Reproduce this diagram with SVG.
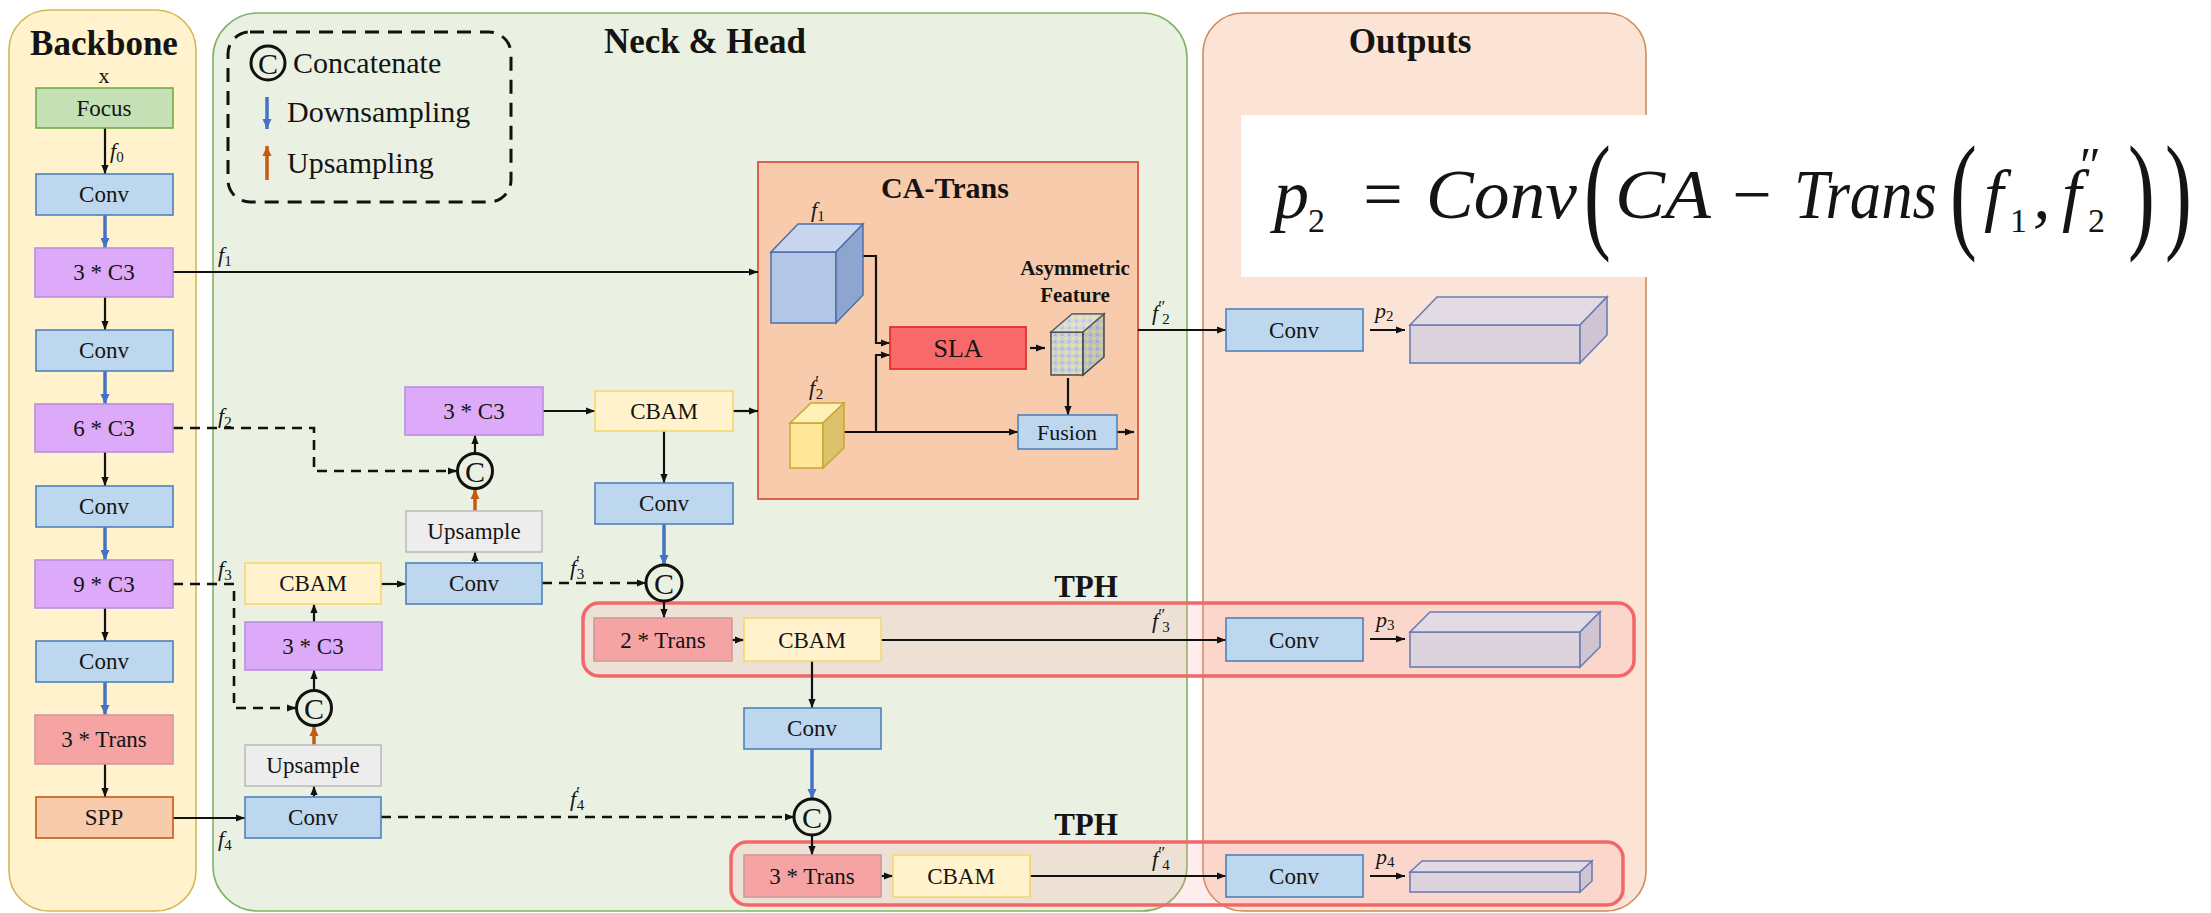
<svg xmlns="http://www.w3.org/2000/svg" width="2211" height="913" viewBox="0 0 2211 913" font-family="'Liberation Serif', 'Times New Roman', serif">
  <defs>
    <style>
      text { font-family: "Liberation Serif", "Times New Roman", serif; fill: #141414; }
      .lbl { font-size: 23px; text-anchor: middle; }
      .title { font-size: 35px; font-weight: bold; text-anchor: middle; }
      .sub-title { font-size: 31px; font-weight: bold; text-anchor: middle; }
      .leg { font-size: 30px; }
      .fl { font-size: 22px; font-style: italic; }
      .sb { font-size: 15px; font-style: normal; }
      .pr { font-size: 17px; font-style: normal; }
      .fx { font-size: 70px; font-style: italic; }
      .fxr { font-size: 70px; font-style: normal; }
      .fxs { font-size: 34px; font-style: normal; }
      .paren { font-size: 130px; font-style: normal; }
      .cc { font-size: 30px; text-anchor: middle; }
      .panel { stroke-width: 1.6; }
      .conv { fill: #bdd7ee; stroke: #4f81bd; stroke-width: 1.6; }
      .c3 { fill: #dcaaf8; stroke: #b98ee0; stroke-width: 1.6; }
      .trans { fill: #f5a3a3; stroke: #cf9a9a; stroke-width: 1.6; }
      .cbam { fill: #fff2cc; stroke: #f5d76e; stroke-width: 1.6; }
      .ups { fill: #ededed; stroke: #bcbcbc; stroke-width: 1.6; }
      .cat { fill: none; stroke: #111; stroke-width: 3; }
      .tph { fill: #ff9c9c; fill-opacity: 0.18; stroke: #f26868; stroke-width: 3.5; }
      .ln { fill: none; stroke: #111; stroke-width: 2.2; }
      .dash { fill: none; stroke: #111; stroke-width: 2.6; stroke-dasharray: 10 7; }
      .down { fill: none; stroke: #4472c4; stroke-width: 3.5; }
      .up { fill: none; stroke: #c55a11; stroke-width: 3.5; }
      .out { fill: #dcd3dd; stroke: #6c7db4; stroke-width: 1.6; }
    </style>
    <marker id="ah" viewBox="0 0 10 10" refX="10" refY="5" markerWidth="10" markerHeight="9" markerUnits="userSpaceOnUse" orient="auto">
      <path d="M0,1 L10,5 L0,9 z" fill="#111"/>
    </marker>
    <marker id="ahB" viewBox="0 0 10 10" refX="10" refY="5" markerWidth="11" markerHeight="10" markerUnits="userSpaceOnUse" orient="auto">
      <path d="M0,0.5 L10,5 L0,9.5 z" fill="#4472c4"/>
    </marker>
    <marker id="ahO" viewBox="0 0 10 10" refX="10" refY="5" markerWidth="11" markerHeight="10" markerUnits="userSpaceOnUse" orient="auto">
      <path d="M0,0.5 L10,5 L0,9.5 z" fill="#c55a11"/>
    </marker>
    <pattern id="dots" width="7" height="7" patternUnits="userSpaceOnUse">
      <rect width="7" height="7" fill="#cdd1d4"/>
      <rect x="0.5" y="1" width="3" height="3" fill="#ece48f"/>
      <rect x="4" y="4.5" width="2.5" height="2.5" fill="#a9b6e3"/>
    </pattern>
  </defs>

  <rect width="2211" height="913" fill="#ffffff"/>

  <!-- stage panels -->
  <g id="panel-backbone">
    <rect class="panel" x="9" y="10" width="187" height="901" rx="40" fill="#fff2cc" stroke="#d6b656"/>
    <text class="title" x="104" y="55">Backbone</text>
    <text x="104" y="83" style="font-size:22px" text-anchor="middle">x</text>
  </g>
  <g id="panel-neck">
    <rect class="panel" x="213" y="13" width="974" height="898" rx="45" fill="#eaf1e2" stroke="#82b366"/>
    <text class="title" x="705" y="53">Neck &amp; Head</text>
  </g>
  <g id="panel-outputs">
    <rect class="panel" x="1203" y="13" width="443" height="898" rx="40" fill="#fbe4d6" stroke="#d08b5b"/>
    <text class="title" x="1410" y="53">Outputs</text>
  </g>

  <!-- legend -->
  <g id="legend">
    <rect x="228" y="32" width="283" height="170" rx="22" fill="none" stroke="#111" stroke-width="3" stroke-dasharray="14 9"/>
    <circle class="cat" cx="268" cy="63" r="17" fill="#eaf1e2"/>
    <text class="cc" x="268" y="74">C</text>
    <text class="leg" x="293" y="73">Concatenate</text>
    <line class="down" x1="267" y1="97" x2="267" y2="129" stroke-width="3" marker-end="url(#ahB)"/>
    <text class="leg" x="287" y="122">Downsampling</text>
    <line class="up" x1="267" y1="180" x2="267" y2="146" stroke-width="3" marker-end="url(#ahO)"/>
    <text class="leg" x="287" y="173">Upsampling</text>
  </g>

  <!-- formula -->
  <g id="formula">
    <rect x="1241" y="115" width="970" height="162" fill="#ffffff"/>
    <text class="fx" x="1274" y="218">p</text>
    <text class="fxs" x="1308" y="232">2</text>
    <text class="fxr" x="1383" y="218" text-anchor="middle">=</text>
    <text class="fx" x="1426" y="218" textLength="151" lengthAdjust="spacingAndGlyphs">Conv</text>
    <text class="paren" transform="translate(1584 235) scale(0.62 1)">(</text>
    <text class="fx" x="1615" y="218" textLength="96" lengthAdjust="spacingAndGlyphs">CA</text>
    <text class="fxr" x="1752" y="218" text-anchor="middle">−</text>
    <text class="fx" x="1794" y="218" textLength="143" lengthAdjust="spacingAndGlyphs">Trans</text>
    <text class="paren" transform="translate(1950 235) scale(0.62 1)">(</text>
    <text class="fx" x="1984" y="218">f</text>
    <text class="fxs" x="2010" y="232">1</text>
    <text class="fx" x="2033" y="218">,</text>
    <text class="fx" x="2062" y="218">f</text>
    <text x="2080" y="182" style="font-size:50px">″</text>
    <text class="fxs" x="2088" y="232">2</text>
    <text class="paren" transform="translate(2128 235) scale(0.62 1)">)</text>
    <text class="paren" transform="translate(2165 235) scale(0.62 1)">)</text>
  </g>

  <!-- TPH head frames -->
  <g id="tph-1">
    <rect class="tph" x="583" y="603" width="1051" height="73" rx="16"/>
    <text class="sub-title" x="1086" y="597">TPH</text>
  </g>
  <g id="tph-2">
    <rect class="tph" x="731" y="842" width="892" height="63" rx="16"/>
    <text class="sub-title" x="1086" y="835">TPH</text>
  </g>

  <!-- CA-Trans block -->
  <g id="ca-trans">
    <rect x="758" y="162" width="380" height="337" fill="#f8cbad" stroke="#e0604c" stroke-width="2"/>
    <text class="sub-title" x="945" y="198" style="font-size:30px">CA-Trans</text>
  </g>

  <!-- connectors -->
  <g id="connectors">
    <!-- backbone chain -->
    <line class="ln" x1="105" y1="128" x2="105" y2="174" marker-end="url(#ah)"/>
    <line class="down" x1="105" y1="215" x2="105" y2="248" marker-end="url(#ahB)"/>
    <line class="ln" x1="105" y1="297" x2="105" y2="330" marker-end="url(#ah)"/>
    <line class="down" x1="105" y1="371" x2="105" y2="404" marker-end="url(#ahB)"/>
    <line class="ln" x1="105" y1="452" x2="105" y2="486" marker-end="url(#ah)"/>
    <line class="down" x1="105" y1="527" x2="105" y2="560" marker-end="url(#ahB)"/>
    <line class="ln" x1="105" y1="608" x2="105" y2="641" marker-end="url(#ah)"/>
    <line class="down" x1="105" y1="682" x2="105" y2="715" marker-end="url(#ahB)"/>
    <line class="ln" x1="105" y1="764" x2="105" y2="797" marker-end="url(#ah)"/>

    <!-- skip features -->
    <line class="ln" x1="173" y1="272" x2="758" y2="272" marker-end="url(#ah)"/>
    <path class="dash" d="M173,428 H314 V471 H457" marker-end="url(#ah)"/>
    <path class="dash" d="M173,584 H234 V708 H296" marker-end="url(#ah)"/>
    <line class="ln" x1="173" y1="818" x2="245" y2="818" marker-end="url(#ah)"/>

    <!-- lower neck column -->
    <line class="ln" x1="314" y1="797" x2="314" y2="786" marker-end="url(#ah)"/>
    <line class="up" x1="314" y1="745" x2="314" y2="726" marker-end="url(#ahO)"/>
    <line class="ln" x1="314" y1="690" x2="314" y2="670" marker-end="url(#ah)"/>
    <line class="ln" x1="314" y1="622" x2="314" y2="604" marker-end="url(#ah)"/>
    <line class="ln" x1="381" y1="584" x2="406" y2="584" marker-end="url(#ah)"/>

    <!-- middle neck column -->
    <line class="ln" x1="475" y1="563" x2="475" y2="552" marker-end="url(#ah)"/>
    <line class="up" x1="475" y1="511" x2="475" y2="489" marker-end="url(#ahO)"/>
    <line class="ln" x1="475" y1="453" x2="475" y2="435" marker-end="url(#ah)"/>
    <line class="ln" x1="543" y1="411" x2="595" y2="411" marker-end="url(#ah)"/>
    <line class="ln" x1="733" y1="411" x2="758" y2="411" marker-end="url(#ah)"/>
    <line class="ln" x1="664" y1="431" x2="664" y2="483" marker-end="url(#ah)"/>
    <line class="down" x1="664" y1="524" x2="664" y2="565" marker-end="url(#ahB)"/>
    <line class="dash" x1="542" y1="583" x2="646" y2="583" marker-end="url(#ah)"/>

    <!-- TPH 1 -->
    <line class="ln" x1="664" y1="601" x2="664" y2="618" marker-end="url(#ah)"/>
    <line class="ln" x1="731" y1="640" x2="744" y2="640" marker-end="url(#ah)"/>
    <line class="ln" x1="881" y1="640" x2="1226" y2="640" marker-end="url(#ah)"/>
    <line class="ln" x1="812" y1="661" x2="812" y2="708" marker-end="url(#ah)"/>
    <line class="down" x1="812" y1="749" x2="812" y2="799" marker-end="url(#ahB)"/>
    <line class="dash" x1="381" y1="817" x2="794" y2="817" marker-end="url(#ah)"/>

    <!-- TPH 2 -->
    <line class="ln" x1="812" y1="835" x2="812" y2="855" marker-end="url(#ah)"/>
    <line class="ln" x1="880" y1="876" x2="893" y2="876" marker-end="url(#ah)"/>
    <line class="ln" x1="1030" y1="876" x2="1226" y2="876" marker-end="url(#ah)"/>

    <!-- inside CA-Trans -->
    <path class="ln" d="M863,256 H876 V343 H890" marker-end="url(#ah)"/>
    <line class="ln" x1="844" y1="432" x2="1018" y2="432" marker-end="url(#ah)"/>
    <path class="ln" d="M876,432 V355 H890" marker-end="url(#ah)"/>
    <line class="ln" x1="1030" y1="348" x2="1045" y2="348" marker-end="url(#ah)"/>
    <line class="ln" x1="1068" y1="378" x2="1068" y2="415" marker-end="url(#ah)"/>
    <line class="ln" x1="1117" y1="432" x2="1134" y2="432" marker-end="url(#ah)"/>
    <line class="ln" x1="1138" y1="330" x2="1226" y2="330" marker-end="url(#ah)"/>

    <!-- predictions -->
    <line class="ln" x1="1370" y1="330" x2="1405" y2="330" marker-end="url(#ah)"/>
    <line class="ln" x1="1370" y1="639" x2="1405" y2="639" marker-end="url(#ah)"/>
    <line class="ln" x1="1370" y1="876" x2="1405" y2="876" marker-end="url(#ah)"/>
  </g>

  <!-- backbone nodes -->
  <g id="focus"><rect x="36" y="88" width="137" height="40" fill="#c5e0b4" stroke="#70ad47" stroke-width="1.6"/><text class="lbl" x="104" y="116">Focus</text></g>
  <g id="bb-conv1"><rect class="conv" x="36" y="174" width="137" height="41"/><text class="lbl" x="104" y="202">Conv</text></g>
  <g id="bb-c3-1"><rect class="c3" x="35" y="248" width="138" height="49"/><text class="lbl" x="104" y="280">3 * C3</text></g>
  <g id="bb-conv2"><rect class="conv" x="36" y="330" width="137" height="41"/><text class="lbl" x="104" y="358">Conv</text></g>
  <g id="bb-c3-2"><rect class="c3" x="35" y="404" width="138" height="48"/><text class="lbl" x="104" y="436">6 * C3</text></g>
  <g id="bb-conv3"><rect class="conv" x="36" y="486" width="137" height="41"/><text class="lbl" x="104" y="514">Conv</text></g>
  <g id="bb-c3-3"><rect class="c3" x="35" y="560" width="138" height="48"/><text class="lbl" x="104" y="592">9 * C3</text></g>
  <g id="bb-conv4"><rect class="conv" x="36" y="641" width="137" height="41"/><text class="lbl" x="104" y="669">Conv</text></g>
  <g id="bb-trans"><rect class="trans" x="35" y="715" width="138" height="49"/><text class="lbl" x="104" y="747">3 * Trans</text></g>
  <g id="spp"><rect x="36" y="797" width="137" height="41" fill="#f8cbad" stroke="#c55a11" stroke-width="1.6"/><text class="lbl" x="104" y="825">SPP</text></g>

  <!-- neck nodes -->
  <g id="nk-c3-up"><rect class="c3" x="405" y="387" width="138" height="48"/><text class="lbl" x="474" y="419">3 * C3</text></g>
  <g id="nk-cbam-up"><rect class="cbam" x="595" y="391" width="138" height="40"/><text class="lbl" x="664" y="419">CBAM</text></g>
  <g id="nk-conv-up"><rect class="conv" x="595" y="483" width="138" height="41"/><text class="lbl" x="664" y="511">Conv</text></g>
  <g id="nk-upsample-mid"><rect class="ups" x="406" y="511" width="136" height="41"/><text class="lbl" x="474" y="539">Upsample</text></g>
  <g id="nk-conv-mid"><rect class="conv" x="406" y="563" width="136" height="41"/><text class="lbl" x="474" y="591">Conv</text></g>
  <g id="nk-cbam-low"><rect class="cbam" x="245" y="563" width="136" height="41"/><text class="lbl" x="313" y="591">CBAM</text></g>
  <g id="nk-c3-low"><rect class="c3" x="245" y="622" width="137" height="48"/><text class="lbl" x="313" y="654">3 * C3</text></g>
  <g id="nk-upsample-low"><rect class="ups" x="245" y="745" width="136" height="41"/><text class="lbl" x="313" y="773">Upsample</text></g>
  <g id="nk-conv-low"><rect class="conv" x="245" y="797" width="136" height="41"/><text class="lbl" x="313" y="825">Conv</text></g>
  <g id="nk-conv-tph"><rect class="conv" x="744" y="708" width="137" height="41"/><text class="lbl" x="812" y="736">Conv</text></g>

  <!-- concatenations -->
  <g id="cat-1"><circle class="cat" cx="475" cy="471" r="17.5" fill="#eaf1e2"/><text class="cc" x="475" y="482">C</text></g>
  <g id="cat-2"><circle class="cat" cx="314" cy="708" r="17.5" fill="#eaf1e2"/><text class="cc" x="314" y="719">C</text></g>
  <g id="cat-3"><circle class="cat" cx="664" cy="583" r="18" fill="#eaf1e2"/><text class="cc" x="664" y="594">C</text></g>
  <g id="cat-4"><circle class="cat" cx="812" cy="817" r="18" fill="#eaf1e2"/><text class="cc" x="812" y="828">C</text></g>

  <!-- TPH nodes -->
  <g id="tph1-trans"><rect class="trans" x="594" y="618" width="138" height="43"/><text class="lbl" x="663" y="648">2 * Trans</text></g>
  <g id="tph1-cbam"><rect class="cbam" x="744" y="618" width="137" height="43"/><text class="lbl" x="812" y="648">CBAM</text></g>
  <g id="tph2-trans"><rect class="trans" x="744" y="855" width="137" height="42"/><text class="lbl" x="812" y="884">3 * Trans</text></g>
  <g id="tph2-cbam"><rect class="cbam" x="893" y="855" width="137" height="42"/><text class="lbl" x="961" y="884">CBAM</text></g>

  <!-- CA-Trans internals -->
  <g id="cube-f1">
    <rect x="771" y="252" width="65" height="71" fill="#b4c7e7" stroke="#4f6fa8" stroke-width="1.5"/>
    <polygon points="771,252 798,224 863,224 836,252" fill="#c8d5ee" stroke="#4f6fa8" stroke-width="1.5"/>
    <polygon points="836,252 863,224 863,295 836,323" fill="#8ea6cf" stroke="#4f6fa8" stroke-width="1.5"/>
  </g>
  <g id="cube-f2p">
    <rect x="790" y="423" width="33" height="45" fill="#ffe699" stroke="#c9a62f" stroke-width="1.5"/>
    <polygon points="790,423 811,403 844,403 823,423" fill="#fff0b8" stroke="#c9a62f" stroke-width="1.5"/>
    <polygon points="823,423 844,403 844,448 823,468" fill="#dcc26c" stroke="#c9a62f" stroke-width="1.5"/>
  </g>
  <g id="sla"><rect x="890" y="327" width="136" height="42" fill="#f86a6a" stroke="#e5302f" stroke-width="1.8"/><text class="lbl" x="958" y="357" style="font-size:26px">SLA</text></g>
  <g id="asym-feature">
    <text x="1075" y="275" style="font-size:21px" font-weight="bold" text-anchor="middle">Asymmetric</text>
    <text x="1075" y="302" style="font-size:21px" font-weight="bold" text-anchor="middle">Feature</text>
    <rect x="1051" y="332" width="32" height="43" fill="url(#dots)" stroke="#4a4a4a" stroke-width="1.5"/>
    <polygon points="1051,332 1072,314 1104,314 1083,332" fill="url(#dots)" stroke="#4a4a4a" stroke-width="1.5"/>
    <polygon points="1083,332 1104,314 1104,357 1083,375" fill="url(#dots)" stroke="#4a4a4a" stroke-width="1.5"/>
    <polygon points="1051,332 1072,314 1104,314 1083,332" fill="#ffffff" fill-opacity="0.2"/>
    <polygon points="1083,332 1104,314 1104,357 1083,375" fill="#000000" fill-opacity="0.08"/>
  </g>
  <g id="fusion"><rect class="conv" x="1018" y="415" width="99" height="34"/><text class="lbl" x="1067" y="440" style="font-size:22px">Fusion</text></g>

  <!-- output nodes -->
  <g id="out-conv-p2"><rect class="conv" x="1226" y="309" width="137" height="42"/><text class="lbl" x="1294" y="338">Conv</text></g>
  <g id="out-conv-p3"><rect class="conv" x="1226" y="618" width="137" height="43"/><text class="lbl" x="1294" y="648">Conv</text></g>
  <g id="out-conv-p4"><rect class="conv" x="1226" y="855" width="137" height="42"/><text class="lbl" x="1294" y="884">Conv</text></g>
  <g id="pred-p2">
    <rect class="out" x="1410" y="325" width="170" height="38"/>
    <polygon class="out" points="1410,325 1437,297 1607,297 1580,325" style="fill:#e2dbe4"/>
    <polygon class="out" points="1580,325 1607,297 1607,335 1580,363" style="fill:#cfc5d2"/>
  </g>
  <g id="pred-p3">
    <rect class="out" x="1410" y="632" width="170" height="35"/>
    <polygon class="out" points="1410,632 1430,612 1600,612 1580,632" style="fill:#e2dbe4"/>
    <polygon class="out" points="1580,632 1600,612 1600,647 1580,667" style="fill:#cfc5d2"/>
  </g>
  <g id="pred-p4">
    <rect class="out" x="1410" y="872" width="170" height="20"/>
    <polygon class="out" points="1410,872 1422,861 1592,861 1580,872" style="fill:#e2dbe4"/>
    <polygon class="out" points="1580,872 1592,861 1592,881 1580,892" style="fill:#cfc5d2"/>
  </g>

  <!-- feature labels -->
  <g id="feature-labels">
    <text class="fl" x="110" y="158">f<tspan class="sb" dy="4">0</tspan></text>
    <text class="fl" x="218" y="262">f<tspan class="sb" dy="4">1</tspan></text>
    <text class="fl" x="218" y="423">f<tspan class="sb" dy="4">2</tspan></text>
    <text class="fl" x="218" y="576">f<tspan class="sb" dy="4">3</tspan></text>
    <text class="fl" x="218" y="846">f<tspan class="sb" dy="4">4</tspan></text>
    <text class="fl" x="811" y="217">f<tspan class="sb" dy="4">1</tspan></text>
    <text class="fl" x="809" y="395">f<tspan class="pr" dy="-8">′</tspan><tspan class="sb" dx="-3" dy="12">2</tspan></text>
    <text class="fl" x="570" y="575">f<tspan class="pr" dy="-8">′</tspan><tspan class="sb" dx="-3" dy="12">3</tspan></text>
    <text class="fl" x="570" y="806">f<tspan class="pr" dy="-8">′</tspan><tspan class="sb" dx="-3" dy="12">4</tspan></text>
    <text class="fl" x="1152" y="320">f<tspan class="pr" dy="-8">″</tspan><tspan class="sb" dx="-3" dy="12">2</tspan></text>
    <text class="fl" x="1152" y="628">f<tspan class="pr" dy="-8">″</tspan><tspan class="sb" dx="-3" dy="12">3</tspan></text>
    <text class="fl" x="1152" y="866">f<tspan class="pr" dy="-8">″</tspan><tspan class="sb" dx="-3" dy="12">4</tspan></text>
    <text class="fl" x="1375" y="318">p<tspan class="sb" dy="3">2</tspan></text>
    <text class="fl" x="1376" y="627">p<tspan class="sb" dy="3">3</tspan></text>
    <text class="fl" x="1376" y="864">p<tspan class="sb" dy="3">4</tspan></text>
  </g>
</svg>
